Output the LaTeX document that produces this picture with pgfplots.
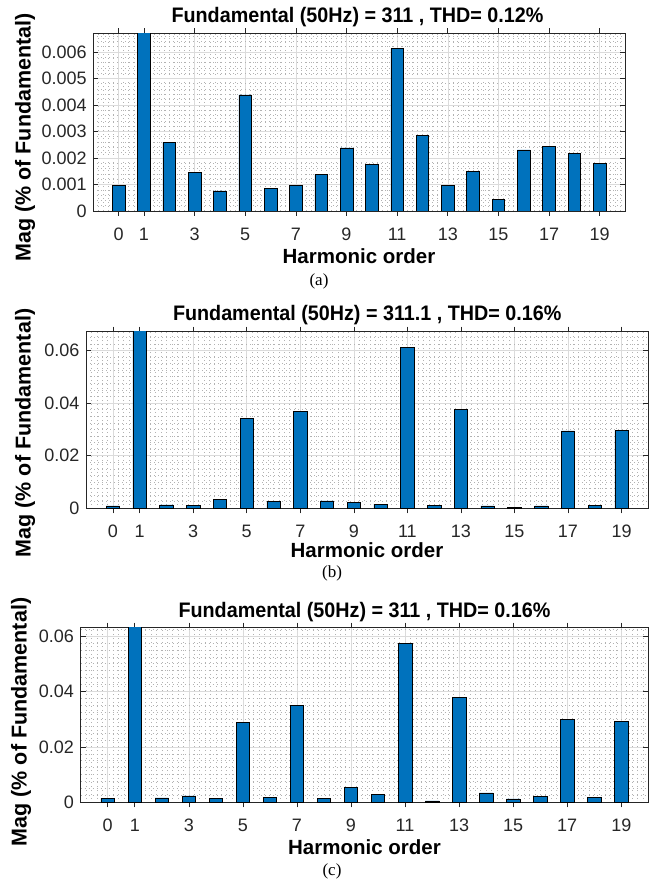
\documentclass[border=0pt]{standalone}
\usepackage{fontspec}
\setmainfont{Liberation Sans}
\newfontfamily\titlefont{Liberation Sans}[FakeStretch=0.94]
\newfontfamily\capfont{Liberation Serif}
\usepackage{pgfplots}
\pgfplotsset{compat=1.18}

\definecolor{barblue}{rgb}{0,0.447,0.741}
\definecolor{axc}{rgb}{0.15,0.15,0.15}
\definecolor{gridc}{rgb}{0.86,0.86,0.86}
\definecolor{minorc}{rgb}{0.70,0.70,0.70}
\definecolor{tlc}{rgb}{0.15,0.15,0.15}

\newcommand\ticksize{\fontsize{18}{20}\selectfont}
\newcommand\titlesize{\titlefont\fontsize{21}{24}\selectfont\bfseries}
\newcommand\labsize{\fontsize{20.5}{24}\selectfont\bfseries}
\newcommand\ylabsize{\fontsize{21.5}{24}\selectfont\bfseries}
\newcommand\capsize{\fontsize{17}{20}\selectfont\capfont}
\newcommand\tl[1]{{\ticksize #1}}

% grid behind the bars, ticks and frame above them
\pgfplotsset{
  layers/barsgrid/.define layer set={axis background,axis grid,pre main,main,axis ticks,axis lines,axis tick labels,axis descriptions,axis foreground}{},
  harm/.style={
    set layers=barsgrid,
    anchor=south west, scale only axis,
    xmin=-1, xmax=20, ymin=0,
    xtick={0,1,3,5,7,9,11,13,15,17,19},
    xticklabels={\tl{0},\tl{1},\tl{3},\tl{5},\tl{7},\tl{9},\tl{11},\tl{13},\tl{15},\tl{17},\tl{19}},
    minor xtick={-1,-0.8,...,20},
    grid=both,
    major grid style={color=gridc, line width=0.5pt},
    minor grid style={color=minorc, line width=0.5pt, dash pattern=on 0.6pt off 3.4pt},
    axis line style={color=axc, line width=0.7pt},
    tick align=inside,
    major tick length=5pt, minor tick length=0pt,
    every tick/.style={color=axc, line width=0.6pt},
    tick label style={font=\ticksize, text=tlc, inner sep=0pt},
    xticklabel style={yshift=-11.5pt},
    yticklabel style={xshift=-6.5pt},
    scaled y ticks=false,
    /pgf/number format/assume math mode=true,
    ybar, bar width=0.5,
  },
  harmbar/.style={fill=barblue, draw=black, line width=0.6pt},
}

\begin{document}
\begin{tikzpicture}

% ---------- (a) ----------
\begin{axis}[harm, at={(93.3pt,672pt)}, width=531.7pt, height=177.7pt,
  ymax=0.0067, restrict y to domain*=0:0.0070,
  ytick={0,0.001,0.002,0.003,0.004,0.005,0.006},
  yticklabels={\tl{0},\tl{0.001},\tl{0.002},\tl{0.003},\tl{0.004},\tl{0.005},\tl{0.006}},
  minor ytick={0,0.0002,...,0.0067}]
\addplot[harmbar] table {
x y
0 0.00097
1 100
2 0.00260
3 0.00146
4 0.00076
5 0.00438
6 0.00086
7 0.00095
8 0.00139
9 0.00238
10 0.00175
11 0.00612
12 0.00285
13 0.00096
14 0.00149
15 0.00043
16 0.00230
17 0.00243
18 0.00217
19 0.00178
};
\end{axis}
\node[font=\titlesize] at (357.5pt,865.5pt) {Fundamental (50Hz) = 311 , THD= 0.12\%};
\node[font=\labsize] at (359pt,627pt) {Harmonic order};
\node[font=\ylabsize, rotate=90] at (25pt,745.5pt) {Mag (\% of Fundamental)};
\node[font=\capsize] at (319pt,602pt) {(a)};

% ---------- (b) ----------
\begin{axis}[harm, at={(86.1pt,374.7pt)}, width=562.2pt, height=176.6pt,
  ymax=0.0671, restrict y to domain*=0:0.070,
  ytick={0,0.02,0.04,0.06},
  yticklabels={\tl{0},\tl{0.02},\tl{0.04},\tl{0.06}},
  minor ytick={0,0.0025,...,0.067}]
\addplot[harmbar] table {
x y
0 0.0009
1 100
2 0.0013
3 0.0011
4 0.0035
5 0.0343
6 0.0025
7 0.0368
8 0.0028
9 0.0022
10 0.0016
11 0.0611
12 0.0011
13 0.0377
14 0.0009
15 0.0003
16 0.0009
17 0.0294
18 0.0010
19 0.0295
};
\end{axis}
\node[font=\titlesize] at (367.2pt,568pt) {Fundamental (50Hz) = 311.1 , THD= 0.16\%};
\node[font=\labsize] at (367pt,333pt) {Harmonic order};
\node[font=\ylabsize, rotate=90] at (25pt,450pt) {Mag (\% of Fundamental)};
\node[font=\capsize] at (332pt,310pt) {(b)};

% ---------- (c) ----------
\begin{axis}[harm, at={(80.7pt,80.7pt)}, width=567.6pt, height=174.6pt,
  ymax=0.063, restrict y to domain*=0:0.066,
  ytick={0,0.02,0.04,0.06},
  yticklabels={\tl{0},\tl{0.02},\tl{0.04},\tl{0.06}},
  minor ytick={0,0.0025,...,0.063}]
\addplot[harmbar] table {
x y
0 0.0014
1 100
2 0.0016
3 0.0023
4 0.0013
5 0.0289
6 0.0018
7 0.0350
8 0.0013
9 0.0054
10 0.0028
11 0.0574
12 0.0005
13 0.0378
14 0.0034
15 0.0012
16 0.0020
17 0.0300
18 0.0019
19 0.0293
};
\end{axis}
\node[font=\titlesize] at (364.5pt,271.3pt) {Fundamental (50Hz) = 311 , THD= 0.16\%};
\node[font=\labsize] at (364.5pt,36.3pt) {Harmonic order};
\node[font=\ylabsize, rotate=90] at (21pt,161pt) {Mag (\% of Fundamental)};
\node[font=\capsize] at (332pt,11.3pt) {(c)};

% page extent
\path (0pt,0pt) rectangle (657pt,883pt);
\end{tikzpicture}
\end{document}
